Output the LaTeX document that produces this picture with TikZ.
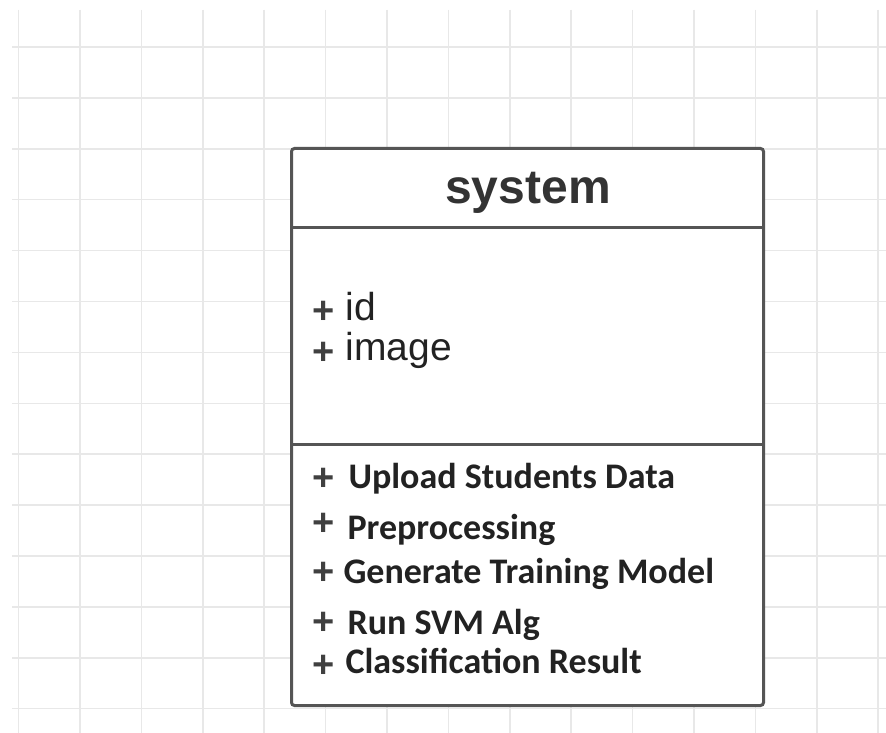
\documentclass[tikz,border=0pt]{standalone}
\usepackage{fontspec}
\usepackage{tikz}
\usetikzlibrary{positioning}
\newfontfamily\arialfont{Liberation Sans}
\newfontfamily\calibrifont{Carlito}
\definecolor{gridgray}{HTML}{E8E8E8}
\definecolor{boxgray}{HTML}{555555}
\definecolor{inkgray}{HTML}{222222}
\tikzset{
every path/.style={line width=1pt}
, every node/.style={inner sep=0pt, text=inkgray}
, gridline/.style={draw=gridgray, line width=1.5pt}
, classbox/.style={draw=boxgray, line width=3pt, fill=white, rounded corners=3pt}
, divider/.style={draw=boxgray, line width=3pt}
, titletext/.style={font=\arialfont\bfseries\fontsize{48}{58}\selectfont, text=black!80}
, attrtext/.style={font=\arialfont\fontsize{39}{47}\selectfont, anchor=base west}
, optext/.style={font=\calibrifont\bfseries\fontsize{36}{43}\selectfont, anchor=base west}
, plussign/.style={font=\arialfont\bfseries\fontsize{38}{46}\selectfont, text=black!75}}

\begin{document}
\begin{tikzpicture}[x=1pt, y=-1pt]
\fill[white] (0,0) rectangle (886,733);
\useasboundingbox (0,0) rectangle (886,733);
% grid paper
\foreach \gx in {0,...,14}
  \draw[gridline] ({18.6+61.4*\gx},10) -- ({18.6+61.4*\gx},733);
\foreach \gy in {0,...,13}
  \draw[gridline] (12,{47+50.9*\gy}) -- (886,{47+50.9*\gy});
% class box
\node[classbox, anchor=north west, minimum width=472pt, minimum height=557pt] (sys) at (290,147) {};
\coordinate (d1) at (0,227);
\coordinate (d2) at (0,444);
\draw[divider] (sys.west |- d1) -- (sys.east |- d1);
\draw[divider] (sys.west |- d2) -- (sys.east |- d2);
\node[titletext, anchor=base] (title) at (528,203) {system};
% attributes
\node[plussign] (pid) at (324,312) {+};
\node[attrtext] (id) at (345,320) {id};
\node[plussign] (pimage) at (324,353) {+};
\node[attrtext] (image) at (345,360) {image};
% operations
\node[plussign] (pupload) at (324,479) {+};
\node[optext] (upload) at (348,488) {Upload Students Data};
\node[plussign] (pprep) at (324,524) {+};
\node[optext] (prep) at (347,539) {Preprocessing};
\node[plussign] (pgen) at (324,573) {+};
\node[optext] (gen) at (343,583) {Generate Training Model};
\node[plussign] (prun) at (324,623) {+};
\node[optext] (run) at (347,634) {Run SVM Alg};
\node[plussign] (pclass) at (324,666) {+};
\node[optext] (class) at (345,673) {Classification Result};
\end{tikzpicture}
\end{document}
